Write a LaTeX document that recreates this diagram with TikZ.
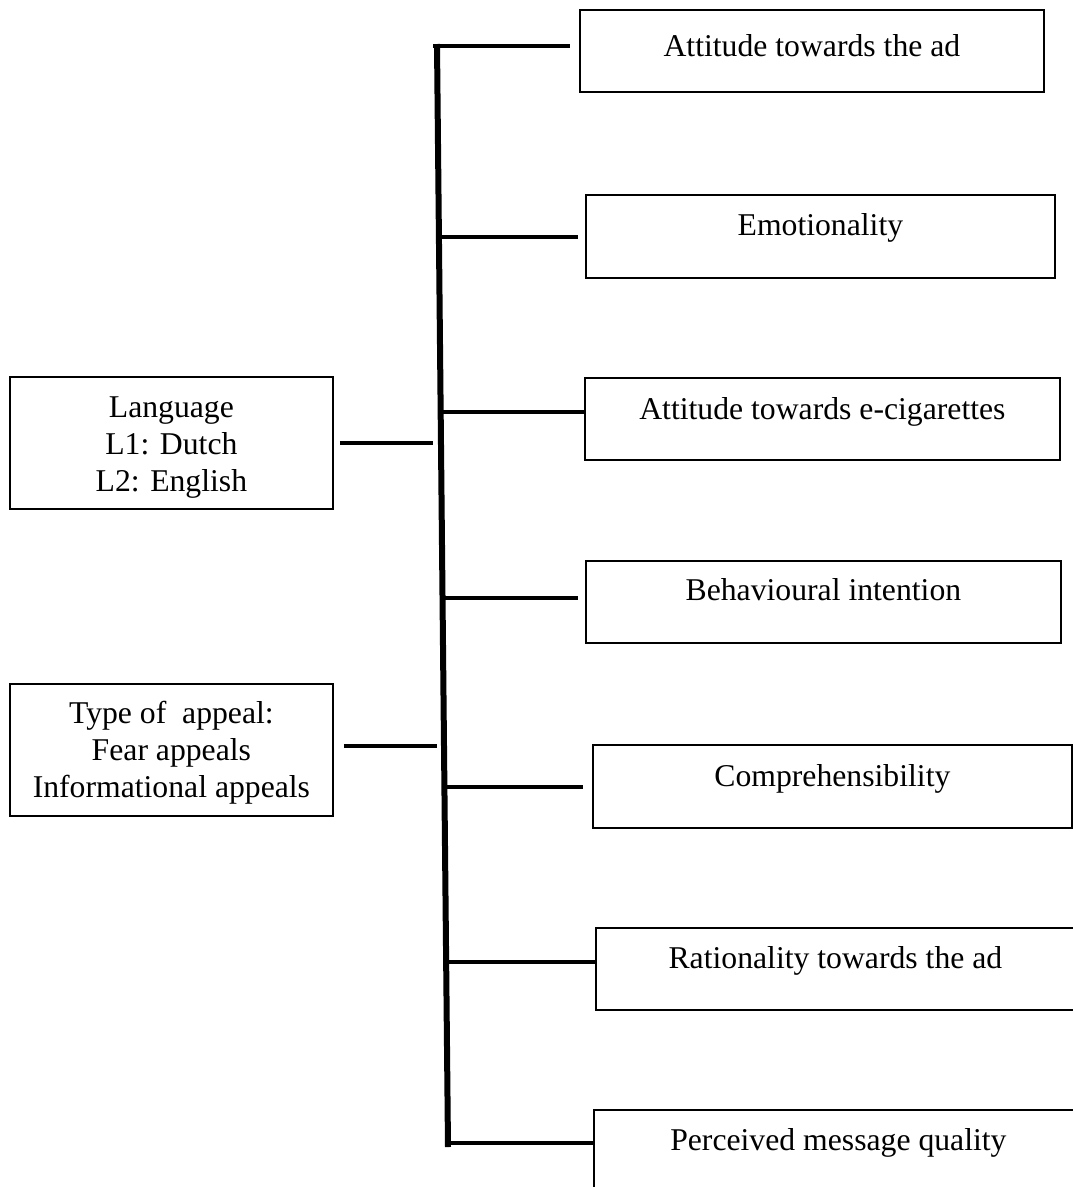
\documentclass[tikz,border=0pt]{standalone}
\usepackage{fontspec}
\setmainfont{Liberation Serif}
\begin{document}
\begin{tikzpicture}[x=1pt,y=-1pt,
  every node/.style={font=\fontsize{31.7}{36.6}\selectfont},
  rbox/.style={draw,line width=1.8pt,inner sep=0pt,anchor=north west},
  lbox/.style={draw,line width=1.8pt,inner sep=0pt,anchor=north west,align=center,minimum width=323pt,text height=114.2pt,text depth=17.8pt},
  conn/.style={line width=4pt},
  spine/.style={line width=6pt}]
\useasboundingbox (0,0) rectangle (1072,1187);
% right-hand boxes
\node[rbox,minimum width=464pt,text height=47pt,text depth=35pt] (b1) at (579,9) {Attitude towards the ad};
\node[rbox,minimum width=469pt,text height=41pt,text depth=42pt] (b2) at (585,194) {Emotionality};
\node[rbox,minimum width=475pt,text height=42pt,text depth=40pt] (b3) at (584,377) {Attitude towards e-cigarettes};
\node[rbox,minimum width=475pt,text height=40pt,text depth=42pt] (b4) at (585,560) {Behavioural intention};
\node[rbox,minimum width=479pt,text height=42pt,text depth=41pt] (b5) at (592,744) {Comprehensibility};
\node[rbox,minimum width=479pt,text height=41pt,text depth=41pt] (b6) at (595,927) {Rationality towards the ad};
\node[rbox,minimum width=489pt,text height=41pt,text depth=41pt] (b7) at (593,1109) {Perceived message quality};
% left-hand boxes
\node[lbox] (l1) at (9,376) {Language\\L1: Dutch\\L2: English};
\node[lbox,text height=113.2pt,text depth=18.8pt] (l2) at (9,683) {Type of\hspace{0.5em}appeal:\\Fear appeals\\Informational appeals};
% spine
\coordinate (st) at (437,44);
\coordinate (sb) at (448,1147);
\draw[spine] (st) -- (sb);
% junctions
\coordinate (j1) at (433,46);
\coordinate (j2) at (439,237);
\coordinate (j3) at (441,412);
\coordinate (j4) at (442.5,598);
\coordinate (j5) at (444.5,787);
\coordinate (j6) at (446,962);
\coordinate (j7) at (445,1143);
\coordinate (k1) at (441,443);
\coordinate (k2) at (444,746);
\draw[conn,shorten >=9pt] (j1) -- (j1 -| b1.west);
\draw[conn,shorten >=7pt] (j2) -- (j2 -| b2.west);
\draw[conn] (j3) -- (j3 -| b3.west);
\draw[conn,shorten >=7pt] (j4) -- (j4 -| b4.west);
\draw[conn,shorten >=9pt] (j5) -- (j5 -| b5.west);
\draw[conn] (j6) -- (j6 -| b6.west);
\draw[conn] (j7) -- (j7 -| b7.west);
\draw[conn,shorten <=6pt,shorten >=8pt] (k1 -| l1.east) -- (k1);
\draw[conn,shorten <=10pt,shorten >=7pt] (k2 -| l2.east) -- (k2);
\end{tikzpicture}
\end{document}
